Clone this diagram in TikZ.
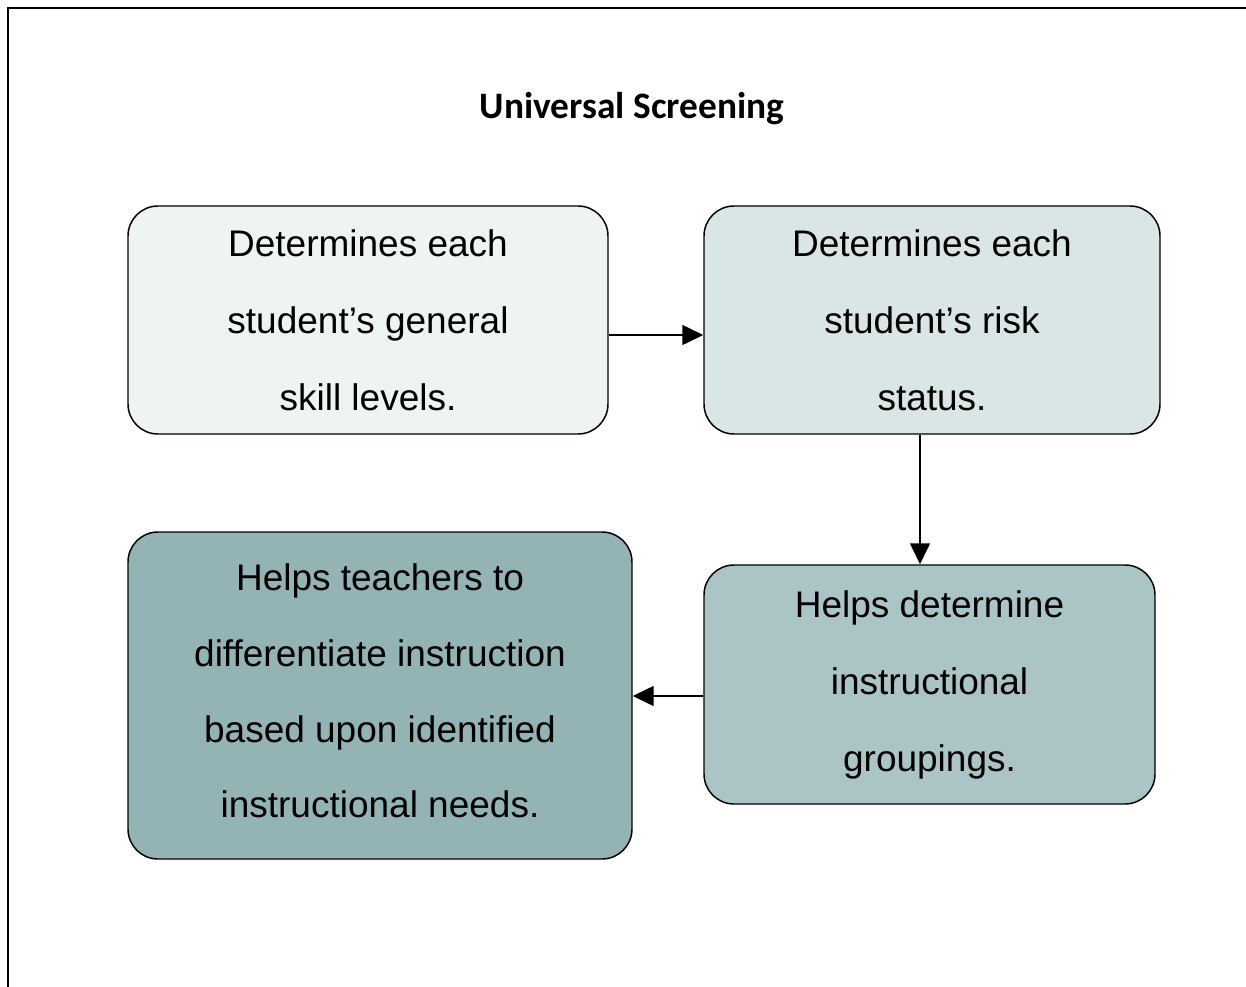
\documentclass[tikz,border=0pt]{standalone}
\usepackage{fontspec}
\setmainfont{Liberation Sans}
\newfontfamily\titlefont{Carlito}
\usetikzlibrary{arrows.meta}
\definecolor{fillA}{HTML}{EEF3F4}
\definecolor{fillB}{HTML}{DAE5E6}
\definecolor{fillC}{HTML}{ABC5C7}
\definecolor{fillD}{HTML}{93B3B5}
\begin{document}
\begin{tikzpicture}[x=0.75pt,y=-0.75pt,
  box/.style={draw=black, line width=1.1pt, rounded corners=22.5pt, inner sep=0pt,
    align=center, font=\fontsize{27.75}{57.75}\selectfont},
  arr/.style={line width=1.1pt, -{Triangle[length=15.75pt,width=15pt]}}]
\useasboundingbox (0,0) rectangle (1246,986);
\draw[line width=1.5pt] (8,990) -- (8,8) -- (1250,8);
\node[font=\titlefont\bfseries\fontsize{28}{32}\selectfont, anchor=base] (title) at (632,118) {Universal Screening};
\node[box, fill=fillA, minimum width=360pt, minimum height=171pt] (b1) at (368,320)
  {Determines each\\student’s general\\skill levels.};
\node[box, fill=fillB, minimum width=342pt, minimum height=171pt] (b2) at (932,320)
  {Determines each\\student’s risk\\status.};
\node[box, fill=fillC, minimum width=338.25pt, minimum height=179.25pt] (b3) at (929.5,684.5)
  {Helps determine\\instructional\\groupings.};
\node[box, fill=fillD, minimum width=378pt, minimum height=245.25pt] (b4) at (380,695.5) {};
\node[align=center, inner sep=0pt, font=\fontsize{27.75}{56.8}\selectfont] (b4t) at (380,691)
  {Helps teachers to\\differentiate instruction\\based upon identified\\instructional needs.};
\coordinate (h1) at (0,335);
\coordinate (v1) at (920,0);
\coordinate (h2) at (0,696);
\draw[arr] (b1.east |- h1) -- (b2.west |- h1);
\draw[arr] (b2.south -| v1) -- (b3.north -| v1);
\draw[arr] (b3.west |- h2) -- (b4.east |- h2);
\end{tikzpicture}
\end{document}
